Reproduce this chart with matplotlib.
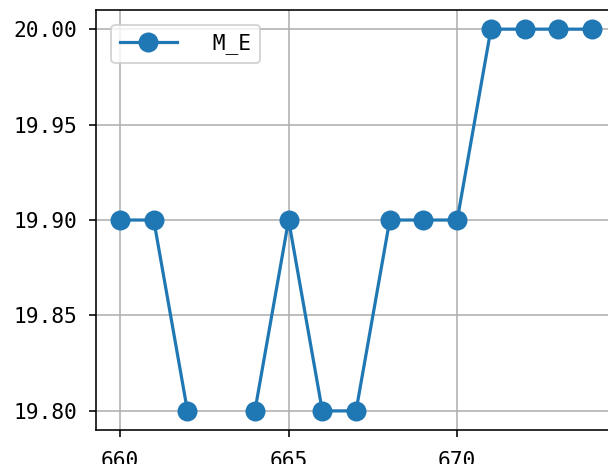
import numpy as np
import matplotlib
matplotlib.use("Agg")
import matplotlib.pyplot as plt

plt.rcParams['font.family'] = ['DejaVu Sans Mono', 'DejaVu Sans']
plt.rcParams['font.size'] = 10.6

# index and measured values (663 has no reading)
x = [660, 661, 662, 663, 664, 665, 666, 667, 668, 669, 670, 671, 672, 673, 674]
m_e = [19.9, 19.9, 19.8, np.nan, 19.8, 19.9, 19.8, 19.8, 19.9, 19.9, 19.9,
       20.0, 20.0, 20.0, 20.0]
xticks = [660, 665, 670]
yticks = [19.80, 19.85, 19.90, 19.95, 20.00]

dpi = 144
fig = plt.figure(figsize=(608 / dpi, 464 / dpi), dpi=dpi)
ax = fig.add_axes([0.1586, 0.0733, 0.854, 0.905])
ax.plot(x, m_e, marker='o', markersize=9, linewidth=1.6, color='#1f77b4',
        label=' M_E')
ax.set_xticks(xticks)
ax.set_yticks(yticks)
ax.set_yticklabels([f'{v:.2f}' for v in yticks])
ax.tick_params(axis='x', pad=7)
ax.tick_params(axis='y', pad=6)
ax.grid(True, color='#b0b0b0', linewidth=0.8)
ax.legend(loc='upper left', handlelength=2.7, handletextpad=1.1,
          borderaxespad=0.7)
fig.savefig('out.png', dpi=dpi)
